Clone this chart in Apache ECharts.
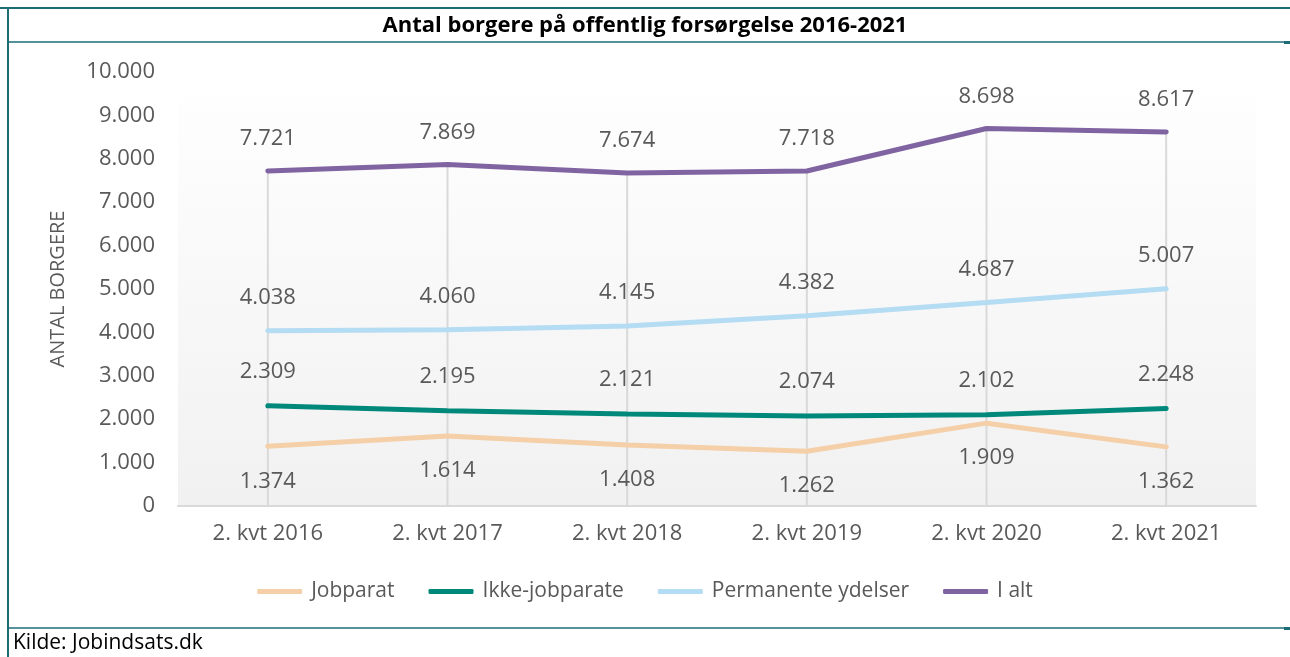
<!DOCTYPE html>
<html>
<head>
<meta charset="utf-8">
<title>Antal borgere på offentlig forsørgelse 2016-2021</title>
<script src="https://cdn.jsdelivr.net/npm/echarts@6/dist/echarts.min.js"></script>
<style>
  html, body { margin: 0; padding: 0; background: #fff; }
  #main { width: 1290px; height: 657px; }
</style>
</head>
<body>
<div id="main"></div>
<script>
var kvartaler = ['2. kvt 2016', '2. kvt 2017', '2. kvt 2018', '2. kvt 2019', '2. kvt 2020', '2. kvt 2021'];
var jobparat = [1374, 1614, 1408, 1262, 1909, 1362];
var ikkeJobparate = [2309, 2195, 2121, 2074, 2102, 2248];
var permanente = [4038, 4060, 4145, 4382, 4687, 5007];
var iAlt = [7721, 7869, 7674, 7718, 8698, 8617];

var FONT = '"Open Sans", sans-serif';
var GREY = '#595959';
var FRAME = '#1d6c76';

function dk(v) {
  return String(v).replace(/\B(?=(\d{3})+(?!\d))/g, '.');
}

function lineSerie(name, data, color, pos, dist) {
  return {
    name: name,
    type: 'line',
    data: data,
    // tiny symbol so the labels get drawn; hidden under the line
    symbol: 'circle',
    symbolSize: 2,
    z: 5,
    lineStyle: { color: color, width: 5, cap: 'round' },
    itemStyle: { color: color },
    label: {
      show: true,
      position: pos,
      distance: dist,
      fontFamily: FONT,
      fontSize: 22,
      color: GREY,
      formatter: function (p) { return dk(p.value); }
    }
  };
}

var chart = echarts.init(document.getElementById('main'));

chart.setOption({
  animation: false,
  title: {
    text: 'Antal borgere på offentlig forsørgelse 2016-2021',
    left: 'center',
    top: 10,
    textStyle: { fontFamily: FONT, fontSize: 22, fontWeight: 'bold', color: '#000' }
  },
  grid: {
    left: 178, right: 34, top: 72, bottom: 151,
    show: true,
    borderWidth: 0,
    backgroundColor: new echarts.graphic.LinearGradient(0, 0, 0, 1, [
      { offset: 0, color: '#ffffff' },
      { offset: 1, color: '#f1f1f1' }
    ])
  },
  legend: {
    data: ['Jobparat', 'Ikke-jobparate', 'Permanente ydelser', 'I alt'],
    bottom: 50,
    left: 'center',
    icon: 'roundRect',
    itemWidth: 45,
    itemHeight: 5,
    itemGap: 34,
    textStyle: { fontFamily: FONT, fontSize: 21, color: GREY, padding: [0, 0, 0, 4] }
  },
  xAxis: {
    type: 'category',
    data: kvartaler,
    boundaryGap: true,
    axisLine: { lineStyle: { color: '#d9d9d9', width: 2 } },
    axisTick: { show: false },
    axisLabel: { fontFamily: FONT, fontSize: 22, color: GREY, margin: 17 }
  },
  yAxis: {
    type: 'value',
    min: 0,
    max: 10000,
    interval: 1000,
    name: 'ANTAL BORGERE',
    nameLocation: 'middle',
    nameGap: 110,
    nameTextStyle: { fontFamily: FONT, fontSize: 20, color: GREY },
    axisLine: { show: false },
    axisTick: { show: false },
    splitLine: { show: false },
    axisLabel: {
      fontFamily: FONT, fontSize: 22, color: GREY, margin: 23,
      formatter: function (v) { return dk(v); }
    }
  },
  series: [
    {
      // droplines from the highest series down to the axis
      name: 'drop',
      type: 'bar',
      data: iAlt,
      barWidth: 2,
      silent: true,
      z: 1,
      itemStyle: { color: '#d9d9d9' }
    },
    lineSerie('Jobparat', jobparat, '#f4cfa8', 'bottom', 23),
    lineSerie('Ikke-jobparate', ikkeJobparate, '#00897b', 'top', 22),
    lineSerie('Permanente ydelser', permanente, '#b4dcf3', 'top', 21),
    lineSerie('I alt', iAlt, '#8064a2', 'top', 20)
  ],
  graphic: [
    { type: 'line', shape: { x1: 0, y1: 8, x2: 1290, y2: 8 }, style: { stroke: FRAME, lineWidth: 2 } },
    { type: 'line', shape: { x1: 8, y1: 8, x2: 8, y2: 657 }, style: { stroke: FRAME, lineWidth: 2 } },
    { type: 'line', shape: { x1: 8, y1: 42, x2: 1285, y2: 42 }, style: { stroke: FRAME, lineWidth: 1.5 } },
    { type: 'rect', shape: { x: 1284, y: 41, width: 6, height: 3 }, style: { fill: FRAME } },
    { type: 'line', shape: { x1: 8, y1: 628, x2: 1285, y2: 628 }, style: { stroke: FRAME, lineWidth: 1.5 } },
    { type: 'rect', shape: { x: 1284, y: 627, width: 6, height: 3 }, style: { fill: FRAME } },
    {
      type: 'text', left: 13, top: 633,
      style: { text: 'Kilde: Jobindsats.dk', fontFamily: FONT, fontSize: 21, fill: '#000' }
    }
  ]
});
</script>
</body>
</html>
